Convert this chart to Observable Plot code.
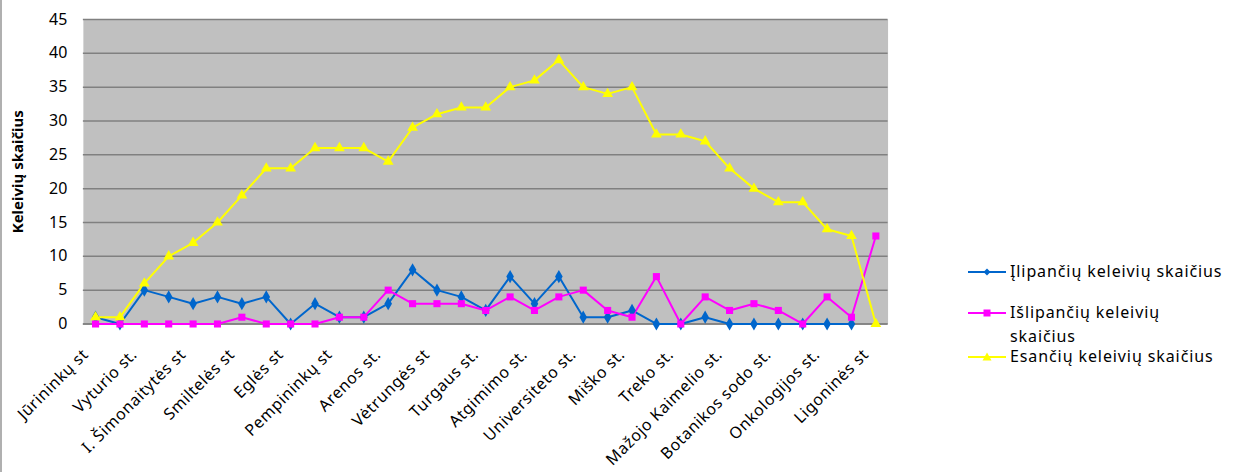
<!DOCTYPE html>
<html><head><meta charset="utf-8">
<script src="https://cdn.jsdelivr.net/npm/d3@7"></script>
<script src="https://cdn.jsdelivr.net/npm/@observablehq/plot@0.6"></script>
<style>
body{margin:0;background:#fff;font-family:"Noto Sans",sans-serif}
#wrap{position:relative;width:1238px;height:472px;overflow:hidden;box-sizing:border-box;border-left:2px solid #b0b0b0}
#wrap > svg{position:absolute;left:-2px;top:0}
.lg{position:absolute;left:966px;font-size:16px;line-height:24px;color:#000;display:flex;align-items:flex-start;letter-spacing:0.9px}
.lg svg{flex:none}
</style></head><body><div id="wrap"></div>
<script>
// Every other stop is labelled on the axis (labels at stop indices 0,2,4,...,32)
const stationLabels = ["Jūrininkų st","Vyturio st.","I. Šimonaitytės st","Smiltelės st","Eglės st","Pempininkų st","Arenos st.","Vėtrungės st","Turgaus st.","Atgimimo st.","Universiteto st.","Miško st.","Treko st.","Mažojo Kaimelio st.","Botanikos sodo st.","Onkologijos st.","Ligoninės st"];
const ilipanciu  = [1,0,5,4,3,4,3,4,0,3,1,1,3,8,5,4,2,7,3,7,1,1,2,0,0,1,0,0,0,0,0,0,null];
const islipanciu = [0,0,0,0,0,0,1,0,0,0,1,1,5,3,3,3,2,4,2,4,5,2,1,7,0,4,2,3,2,0,4,1,13];
const esanciu    = [1,1,6,10,12,15,19,23,23,26,26,26,24,29,31,32,32,35,36,39,35,34,35,28,28,27,23,20,18,18,14,13,0];
const seriesNames = ["Įlipančių keleivių skaičius","Išlipančių keleivių skaičius","Esančių keleivių skaičius"];
const seriesColors = ["#0066CC","#FF00FF","#FFFF00"];
const seriesSymbols = ["diamond","square","triangle"];
const yTicks = [0,5,10,15,20,25,30,35,40,45];
const yLabel = "Keleivių skaičius";

const seriesValues = [ilipanciu, islipanciu, esanciu];
const rows = [];
seriesValues.forEach((arr, s) => arr.forEach((v, i) => rows.push({i, v, s: seriesNames[s]})));
const xTickIdx = stationLabels.map((_, k) => 2 * k);

const font = '"Noto Sans", sans-serif';
const chart = Plot.plot({
  width: 1238, height: 472,
  marginLeft: 83, marginRight: 349, marginTop: 19, marginBottom: 148,
  style: {fontFamily: font, fontSize: "15px", background: "transparent"},
  x: {type: "linear", domain: [-0.5, esanciu.length - 0.5]},
  y: {domain: [0, 45]},
  color: {domain: seriesNames, range: seriesColors},
  symbol: {domain: seriesNames, range: seriesSymbols},
  marks: [
    Plot.frame({fill: "#C0C0C0", stroke: null}),
    Plot.gridY(yTicks, {stroke: "#808080", strokeOpacity: 1, strokeWidth: 1.5}),
    Plot.ruleY([0], {stroke: "#808080", strokeWidth: 1.5}),
    Plot.axisY(yTicks, {tickSize: 0, tickPadding: 16, fontSize: 16, label: yLabel, labelAnchor: "center", labelArrow: "none", labelOffset: 71}),
    Plot.axisX(xTickIdx, {tickSize: 0, tickPadding: 28, tickRotate: -45, fontSize: 16, dx: -10, label: null, tickFormat: i => stationLabels[i / 2]}),
    Plot.line(rows, {x: "i", y: "v", stroke: "s", z: "s", strokeWidth: 2}),
    Plot.dot(rows.filter(d => d.v != null), {x: "i", y: "v", fill: "s", symbol: "s", r: 4, stroke: null})
  ]
});
d3.select(chart).select('[aria-label="y-axis label"]').attr("font-weight", "bold").attr("font-size", 15);
d3.select(chart).select('[aria-label="x-axis tick label"]').attr("letter-spacing", "0.6px");
document.getElementById("wrap").appendChild(chart);

// Legend (right side)
const legendTops = [259, 300, 344];
const legendTexts = [seriesNames[0], "Išlipančių keleivių<br>skaičius", seriesNames[2]];
const symbolPaths = {diamond: "M0,-3.5L3.5,0L0,3.5L-3.5,0Z", square: "M-3.5,-3.5H3.5V3.5H-3.5Z", triangle: "M0,-4.5L4.5,3.5H-4.5Z"};
seriesNames.forEach((n, k) => {
  const div = document.createElement("div");
  div.className = "lg";
  div.style.top = legendTops[k] + "px";
  div.innerHTML = `<svg width="42" height="24"><line x1="0" x2="38" y1="13" y2="13" stroke="${seriesColors[k]}" stroke-width="2"/><path transform="translate(19,13)" d="${symbolPaths[seriesSymbols[k]]}" fill="${seriesColors[k]}"/></svg><span>${legendTexts[k]}</span>`;
  document.getElementById("wrap").appendChild(div);
});
</script></body></html>
